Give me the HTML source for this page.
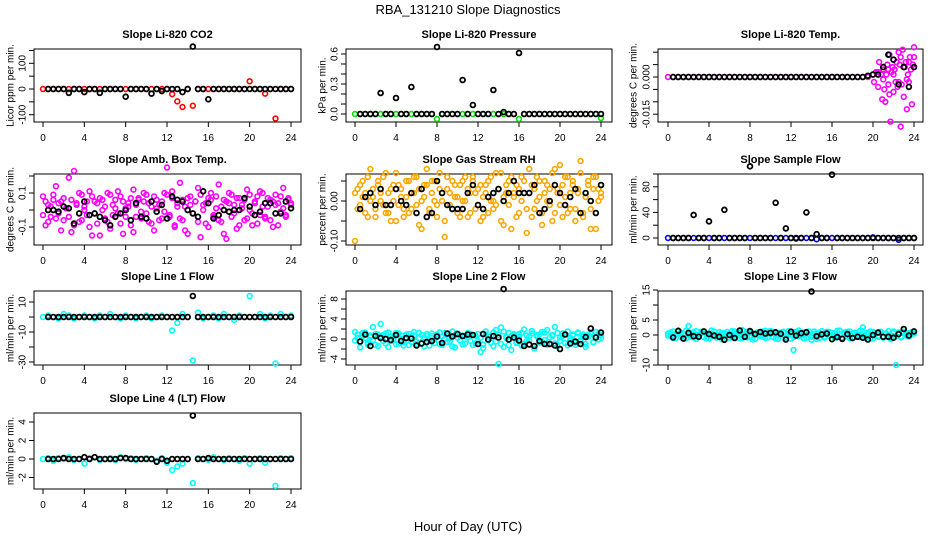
<!DOCTYPE html>
<html><head><meta charset="utf-8"><style>
html,body{margin:0;padding:0;background:#fff;}
svg{display:block;font-family:"Liberation Sans",sans-serif;}
</style></head><body>
<svg id="c" width="936" height="540" viewBox="0 0 936 540">
<text x="468" y="14" text-anchor="middle" font-size="13">RBA_131210  Slope Diagnostics</text>
<text x="468" y="531" text-anchor="middle" font-size="13">Hour of Day (UTC)</text>
</svg>
<script>
// ---- data ----
const xTicks=[0,4,8,12,16,20,24];
const co2Col=[0,0,0,0,0,0,0,0,0,0,0,0,0,0,0,0,0,0,0,0,0,0,0,0,0,-20,-48,-70,0,-65,0,0,0,0,0,0,0,0,0,0,30,0,0,-18,0,-115,0,0,0];
const co2Blk=[0,0,0,0,-15,0,0,-12,0,0,-15,0,0,0,0,-30,0,0,0,0,-18,0,-8,0,0,0,-12,0,165,0,0,-40,0,0,0,0,0,0,0,0,0,0,0,0,0,0,0,0];
const presCol=[0,0,0,0,0,0,0,0,0,0,0,0,0,0,0,0,-0.05,0,0,0,0,0,0,0,0,0,0,0,0,0,0,0,-0.05,0,0,0,0,0,0,0,0,0,0,0,0,0,0,0,-0.04];
const presBlk=[0,0,0,0,0.21,0,0,0.16,0,0,0.27,0,0,0,0,0.67,0,0,0,0,0.34,0,0.09,0,0,0,0.24,0,0.02,0,0,0.61,0,0,0,0,0,0,0,0,0,0,0,0,0,0,0,0];
const tempCol=[0,0,0,0,0,0,0,0,0,0,0,0,0,0,0,0,0,0,0,0,0,0,0,0,0,0,0,0,0,0,0,0,0,0,0,0,0,0,0,0,0.001,0.002,-0.001,0.003,0.001,-0.002,0.004,0.006,0.008];
const tempLateHours=[20.1,20.3,20.5,20.6,20.8,20.9,21.0,21.1,21.2,21.3,21.4,21.5,21.6,21.7,21.8,21.9,22.0,22.1,22.2,22.3,22.4,22.5,22.6,22.7,22.8,22.9,23.0,23.1,23.2,23.3,23.4,23.5,23.6,23.7,23.8,23.9,24.0,21.6,22.7,23.3];
const tempLateVals=[-0.002,0.002,-0.004,0.006,0.001,-0.009,0.003,-0.005,-0.010,0.001,0.005,-0.003,0.009,-0.018,0.002,0.004,-0.006,0.003,-0.002,0.006,-0.004,0.010,0.005,-0.020,-0.003,0.011,-0.008,0.004,0.006,-0.013,0.001,-0.002,0.008,0.003,-0.011,0.005,0.012,-0.007,0.008,-0.001];
const tempBlk=[0,0,0,0,0,0,0,0,0,0,0,0,0,0,0,0,0,0,0,0,0,0,0,0,0,0,0,0,0,0,0,0,0,0,0,0,0,0,0.0005,0.001,0.001,0.004,0.009,0.007,-0.003,0.004,-0.004,0.004];
const ambColA=[0.08,-0.09,0.03,-0.04,0.06,0.14,-0.02,0.05,-0.06,0.01,0.19,-0.13,0.23,0.04,-0.07,0.09,0.02,-0.03,0.11,-0.15,0.05,-0.08,0.07,0.00,-0.05,0.10,-0.11,0.03,0.06,-0.02,0.08,-0.14,0.01,0.04,-0.09,0.12,-0.04,0.07,-0.01,0.05,0.09,-0.07,0.02,-0.12,0.06,0.03,-0.05,0.10,0.25,-0.03,0.07,-0.10,0.04,0.16,-0.06,0.02,-0.14,0.08,-0.02,0.05,0.13,-0.16,0.03,-0.08,0.07,0.10,-0.04,0.01,0.15,-0.07,0.06,-0.17,0.04,0.09,-0.02,-0.11,0.07,0.03,-0.06,0.12,0.00,-0.09,0.05,0.08,-0.03,0.10,-0.05,0.02,0.06,-0.10,0.09,0.04,-0.01,0.13,-0.04,0.07,0.03];
const ambColB=[-0.03,0.05,-0.07,0.02,0.09,-0.05,0.04,-0.12,0.07,0.01,-0.04,0.06,-0.09,0.03,0.10,-0.06,0.00,0.05,-0.10,0.08,-0.02,0.04,-0.15,0.06,0.02,-0.07,0.09,-0.03,0.01,0.11,-0.08,0.05,-0.04,0.02,0.07,-0.13,0.03,0.06,-0.05,0.10,-0.02,0.04,-0.08,0.08,0.01,-0.06,0.05,-0.01,0.09,-0.04,0.11,-0.09,0.02,-0.05,0.06,-0.12,0.07,0.03,-0.02,0.05,-0.07,0.09,0.00,0.04,-0.10,0.06,-0.03,0.08,-0.06,0.02,-0.14,0.05,0.10,-0.04,0.03,0.07,-0.09,0.01,0.06,-0.05,0.09,-0.02,0.04,-0.08,0.11,0.02,-0.04,0.07,-0.06,0.05,0.03,-0.09,0.08,0.01,-0.03,0.06,0.04];
const ambBlk=[0.00,0.00,-0.01,0.02,0.01,-0.08,-0.02,0.05,-0.03,-0.02,-0.04,-0.06,-0.09,-0.04,-0.02,0.00,-0.06,0.04,-0.04,-0.05,0.05,-0.01,0.03,-0.05,0.08,0.06,0.05,0.00,-0.02,-0.04,0.11,0.04,-0.05,-0.03,0.00,-0.01,0.00,0.00,0.07,0.02,-0.03,-0.01,0.04,0.04,-0.02,-0.02,0.05,0.01];
const rhColA=[0.02,-0.02,0.04,0.01,-0.03,0.06,0.00,0.03,-0.04,0.05,0.02,-0.01,0.07,-0.03,0.03,0.00,-0.05,0.04,0.01,-0.02,0.05,-0.03,0.02,0.06,-0.01,0.03,-0.07,0.01,0.04,-0.02,0.05,0.00,-0.04,0.07,0.02,-0.09,0.03,-0.01,0.05,0.01,-0.03,0.04,0.00,0.06,-0.04,0.02,0.05,-0.02,0.03,-0.05,0.01,0.04,-0.03,0.06,0.00,-0.01,0.03,0.07,-0.06,0.02,0.05,-0.07,0.01,0.04,-0.03,0.06,0.02,-0.02,0.08,-0.04,0.03,0.00,0.05,-0.06,0.02,0.04,-0.01,0.07,-0.03,0.03,0.09,-0.04,0.01,0.06,-0.02,0.04,-0.05,0.02,0.07,-0.03,0.01,0.05,-0.07,0.03,0.06,0.00,0.02];
const rhColB=[-0.10,0.03,-0.01,0.05,0.02,-0.04,0.08,0.01,-0.02,0.04,0.00,0.06,-0.03,0.02,-0.05,0.04,0.07,-0.01,0.03,-0.04,0.01,0.05,-0.02,0.02,0.06,-0.06,0.00,0.04,0.08,-0.03,0.02,0.05,-0.01,0.03,0.00,-0.05,0.06,0.02,-0.02,0.04,0.01,-0.04,0.05,0.00,0.03,-0.03,0.06,0.02,-0.01,0.04,-0.04,0.02,0.05,0.00,-0.02,0.07,0.03,-0.05,0.01,0.04,-0.01,0.06,0.02,-0.04,0.03,0.00,0.05,-0.08,0.02,0.04,-0.02,0.06,0.01,-0.03,0.05,0.00,0.03,-0.05,0.08,0.02,-0.01,0.04,0.06,-0.03,0.02,0.05,-0.02,0.03,0.10,-0.04,0.01,0.04,-0.02,0.06,-0.07,0.03,0.01];
const rhBlk=[-0.02,0.01,0.02,-0.01,0.03,-0.01,-0.01,0.03,0.00,-0.01,0.02,-0.03,0.03,-0.04,-0.03,0.05,0.02,-0.01,-0.02,-0.02,-0.02,0.02,0.04,-0.01,-0.02,0.01,0.02,0.03,0.00,0.02,0.05,0.02,0.02,0.02,0.04,-0.03,-0.02,0.00,0.04,0.02,-0.01,0.01,0.03,-0.03,0.02,0.00,-0.03,0.04];
const sampCol=[0,0,0,0,0,0,0,0,0,0,0,0,0,0,0,0,0,0,0,0,0,0,0,0,0,-1,0,0,0,-2,0,0,0,0,0,0,0,0,0,0,1,0,0,0,0,-3,0,0,0];
const sampBlk=[0,0,0,0,36,0,0,26,0,0,44,0,0,0,0,112,0,0,0,0,55,0,15,0,0,0,40,0,6,0,0,99,0,0,0,0,0,0,0,0,0,0,0,0,0,0,0,0];
const l1Col=[0,1,0,-1,2,1,-1,0,1,0,-1,1,0,2,0,-1,1,0,-1,0,1,-1,0,1,0,-9,-4,2,0,-29,3,-1,0,1,-1,2,0,-2,1,0,14,0,2,-1,1,-31,2,0,1];
const l1Blk=[0,0,0,0,0,0,0,0,0,0,0,0,0,0,0,0,0,0,0,0,0,0,0,0,0,0,0,0,14,0,0,0,0,0,0,0,0,0,0,0,0,0,0,0,0,0,0,0];
const l2ColA=[1.4,0.2,-1.7,0.6,1.3,-0.8,0.4,2.4,-1.2,0.9,3.0,-0.4,1.1,-1.6,0.5,0.0,1.2,-0.9,0.7,-1.3,0.3,1.0,-0.6,1.4,-1.0,0.2,0.8,-1.5,0.6,-0.3,1.1,-0.8,0.4,1.3,-1.2,0.0,0.9,-0.5,1.5,-1.7,0.3,0.7,-1.1,0.5,1.2,-0.4,0.8,-0.9,1.0,-2.6,-1.8,1.5,-0.2,0.6,-1.4,1.8,-5.0,2.3,-1.6,0.4,1.2,-2.2,0.7,-0.6,1.0,-1.3,1.9,-0.4,0.5,1.6,-1.9,0.8,-0.7,1.4,-0.2,1.8,-1.0,0.6,2.4,-1.5,0.3,1.1,-0.8,1.5,-0.3,0.7,-1.2,1.3,-0.5,0.9,-1.6,0.4,1.0,-0.7,1.4,-0.1,0.8];
const l2ColB=[-0.3,0.9,-0.6,1.2,0.2,-1.1,0.7,-0.2,1.0,-1.4,0.5,0.8,-0.9,1.3,-0.4,0.6,-1.0,1.1,0.0,-0.7,0.9,-1.2,0.4,0.7,-0.5,1.2,-0.8,0.3,1.0,-1.3,0.6,-0.1,0.9,-1.0,0.5,1.2,-0.6,0.2,-1.5,0.8,1.1,-0.3,0.6,-0.9,0.4,1.0,-1.2,0.7,-0.4,0.2,-1.1,0.9,0.5,-0.7,1.3,-0.5,0.8,-1.0,1.5,0.2,-1.2,0.6,1.0,-0.8,0.4,1.2,-1.0,0.7,-0.3,1.1,-1.4,0.5,0.9,-0.6,1.3,-1.1,0.3,0.8,-0.9,1.2,-0.4,0.6,1.0,-1.3,0.2,0.9,-0.7,1.1,-0.2,0.5,-1.0,0.8,1.3,-0.6,0.4,1.0,0.2];
const l2Blk=[-0.5,0.9,-1.4,0.6,0.2,0.0,-0.2,0.8,-0.4,0.2,0.1,-1.3,-0.9,-0.6,-0.4,0.5,-0.8,1.1,0.5,1.0,0.6,0.9,0.8,-1.0,1.0,-0.1,0.6,0.3,10.0,-0.1,0.3,-0.3,-1.4,-1.1,-1.4,-0.4,-1.0,-1.0,-1.3,-2.0,0.9,-0.9,-0.5,-1.0,0.4,2.1,0.3,1.3];
const l3ColA=[0.5,-0.4,1.2,-1.1,0.3,0.8,-0.9,1.4,3.0,-0.6,0.9,-1.3,0.2,1.1,-0.7,0.5,-1.2,1.5,0.0,-0.5,1.0,-1.4,0.6,0.3,-0.9,1.3,-0.2,0.7,-1.1,1.6,0.4,-0.8,1.0,-1.5,0.2,0.9,-0.4,1.2,-1.0,0.5,1.4,-0.6,0.1,-1.3,0.8,1.1,-0.7,0.3,-1.2,-5.0,0.6,1.5,-0.3,0.9,-0.9,1.2,-1.6,0.4,0.7,-1.0,1.3,-0.5,0.2,1.0,-1.3,0.6,-0.2,1.5,-0.8,0.3,1.1,-1.1,0.5,0.8,-0.6,1.4,2.5,-0.9,0.2,1.2,-1.2,0.7,-0.3,1.0,-0.8,0.4,1.3,-1.4,0.6,-10.0,0.9,-0.5,1.1,-0.2,0.7,0.3,0.6];
const l3ColB=[-0.2,0.8,-1.0,0.4,1.1,-0.6,0.3,-1.2,0.9,0.2,-0.8,1.3,-0.4,0.6,1.0,-1.1,0.5,-0.3,1.2,-0.9,0.1,0.7,-1.4,1.0,0.4,-0.6,1.2,-0.2,0.8,-1.0,0.3,1.1,-0.7,0.6,-1.3,0.9,0.2,-0.5,1.4,-0.8,0.4,1.0,-1.2,0.6,-0.1,0.9,-0.9,1.3,0.3,-0.7,1.1,-0.4,0.5,-1.1,1.0,0.2,-0.6,1.2,-1.3,0.8,0.4,-0.9,1.1,-0.2,0.7,-1.0,1.4,0.3,-0.8,0.9,-0.5,1.2,-1.1,0.6,0.1,-0.7,1.3,-0.3,0.8,-1.2,1.0,0.4,-0.6,1.1,-0.9,0.5,0.2,-1.0,1.2,-0.4,0.7,-0.8,1.0,0.3,-0.5,0.9,0.5];
const l3Blk=[-0.8,1.4,-1.2,0.7,-0.4,-0.6,1.2,0.3,-0.2,-0.6,-1.6,0.0,-1.0,1.5,-0.6,1.3,0.3,1.0,0.5,0.7,0.9,0.4,-1.5,1.1,-0.2,0.6,0.9,14.5,-0.4,0.2,0.5,-1.4,-0.7,-1.3,0.3,-1.0,-0.6,-0.9,-1.5,0.0,0.8,-0.6,-0.6,-0.9,0.3,2.0,-0.2,1.2];
const l4Col=[0,0.1,-0.2,0.1,0,0.2,-0.1,0,-0.5,0.1,0.2,-0.1,0,0.1,-0.1,0.2,0,0.1,-0.1,0,0.1,0,-0.2,0.1,-0.4,-1.2,-0.8,-0.5,0,-2.6,0.1,0,-0.1,0.2,0,-0.1,0.1,0,-0.2,0.1,-0.5,0,0.1,-0.4,0,-2.9,0.1,0,0.1];
const l4Blk=[0,0,0,0.1,0,0,0,0.2,0,0.2,0,0,0,0,0.1,0.1,0,0,0,0,0,-0.3,0,-0.2,0,0,0,0,4.7,0,0,0.1,0,0,0,0,0,0,0,0,0,0,0,0,0,0,0,0];

// ---- layout ----
const cols=[{l:34,r:301,x0:43,x1:291,yt:10},{l:346,r:612,x0:355,x1:601,yt:322},{l:658,r:923,x0:668,x1:914,yt:633}];
const rows=[{t:49,b:122},{t:174,b:245},{t:291,b:365},{t:413,b:489}];
const NS='http://www.w3.org/2000/svg';
const svg=document.getElementById('c');
function mk(tag,at,parent){const e=document.createElementNS(NS,tag);for(const k in at)e.setAttribute(k,at[k]);(parent||svg).appendChild(e);return e;}

function panel(o){
  const c=cols[o.col],r=rows[o.row];
  const g=mk('g',{});
  
  
  const xs=h=>c.x0+(c.x1-c.x0)*h/24;
  const ys=v=>o.yz-(v)*o.ypu;
  const t=mk('text',{x:(c.l+c.r)/2,y:r.t-11,'text-anchor':'middle','font-size':11,'font-weight':'bold'},g);
  t.textContent=o.title;
  
  
  const box=mk('rect',{x:c.l,y:r.t,width:c.r-c.l,height:r.b-r.t,fill:'none',stroke:'#000','stroke-width':1},g);
  
  
  // x axis
  const xa=mk('g',{},g);
  
  
  xTicks.forEach(v=>{
    mk('line',{x1:xs(v),x2:xs(v),y1:r.b,y2:r.b+5,stroke:'#000'},xa);
    const tx=mk('text',{x:xs(v),y:r.b+19,'text-anchor':'middle','font-size':10},xa);
    tx.textContent=v;
    
    
  });
  // y axis
  const ya=mk('g',{},g);
  
  
  const ax=c.l;
  o.ticks.forEach(v=>{
    mk('line',{x1:ax-5,x2:ax,y1:ys(v),y2:ys(v),stroke:'#000'},ya);
  });
  const tl=c.l-12;
  o.labels.forEach(v=>{
    const yy=ys(v);
    const tx=mk('text',{x:tl,y:yy,'text-anchor':'middle','font-size':10,transform:`rotate(-90 ${tl} ${yy})`,dy:'0.35em'},ya);
    tx.textContent=o.fmt?o.fmt(v):v;
    
    
  });
  const ymid=(r.t+r.b)/2;
  const yl=mk('text',{x:c.yt,y:ymid,'text-anchor':'middle','font-size':10,transform:`rotate(-90 ${c.yt} ${ymid})`,dy:'0.35em'},g);
  yl.textContent=o.ylab;
  
  
  function pts(vals,hours,color,sname,w){
    const sg=mk('g',{fill:'none',stroke:color,'stroke-width':w||1.6},g);
    
    
    vals.forEach((v,i)=>{
      const h=hours?hours[i]:(hours===null?(i+1)*24/vals.length:i*24/(vals.length-1));
      const p=mk('circle',{cx:xs(h),cy:ys(v),r:2.4},sg);
      
      
    });
  }
  (o.colored||[]).forEach((s,k)=>pts(s,o.cHours&&o.cHours[k],o.color,'colored-series-'+(k+1)));
  pts(o.black,null,'#000','black-series',1.8);
}

panel({name:'co2',col:0,row:0,title:'Slope Li-820 CO2',ylab:'Licor ppm per min.',yz:89,ypu:0.257,ticks:[-100,-50,0,50,100,150],labels:[-100,0,100],color:'#ff0000',colored:[co2Col],black:co2Blk});
panel({name:'pressure',col:1,row:0,title:'Slope Li-820 Pressure',ylab:'kPa per min.',yz:114,ypu:100,ticks:[0,0.1,0.2,0.3,0.4,0.5,0.6],labels:[0,0.3,0.6],fmt:v=>v.toFixed(1),color:'#00dd00',colored:[presCol],black:presBlk});
panel({name:'li820-temp',col:2,row:0,title:'Slope Li-820 Temp.',ylab:'degrees C per min.',yz:77,ypu:2480,ticks:[-0.015,-0.01,-0.005,0,0.005,0.01],labels:[-0.015,0],fmt:v=>v.toFixed(3),color:'#ff00ff',colored:[tempCol,tempLateVals],cHours:[undefined,tempLateHours],black:tempBlk});
panel({name:'amb-box-temp',col:0,row:1,title:'Slope Amb. Box Temp.',ylab:'degrees C per min.',yz:210,ypu:170,ticks:[-0.1,0,0.1,0.2],labels:[-0.1,0.1],fmt:v=>v.toFixed(1),color:'#ff00ff',colored:[ambColA,ambColB],black:ambBlk});
panel({name:'gas-stream-rh',col:1,row:1,title:'Slope Gas Stream RH',ylab:'percent per min.',yz:201,ypu:400,ticks:[-0.1,-0.05,0,0.05],labels:[-0.1,0],fmt:v=>v.toFixed(2),color:'#ffa500',colored:[rhColA,rhColB],black:rhBlk});
panel({name:'sample-flow',col:2,row:1,title:'Slope Sample Flow',ylab:'ml/min per min.',yz:238,ypu:0.64,ticks:[0,20,40,60,80,100],labels:[0,40,80],color:'#0000ff',colored:[sampCol],black:sampBlk});
panel({name:'line1-flow',col:0,row:2,title:'Slope Line 1 Flow',ylab:'ml/min per min.',yz:317,ypu:1.5,ticks:[-30,-20,-10,0,10],labels:[-30,-10,10],color:'#00ffff',colored:[l1Col],black:l1Blk});
panel({name:'line2-flow',col:1,row:2,title:'Slope Line 2 Flow',ylab:'ml/min per min.',yz:339,ypu:5,ticks:[-4,-2,0,2,4,6,8],labels:[-4,0,4,8],color:'#00ffff',colored:[l2ColA,l2ColB],black:l2Blk});
panel({name:'line3-flow',col:2,row:2,title:'Slope Line 3 Flow',ylab:'ml/min per min.',yz:335,ypu:3,ticks:[-10,-5,0,5,10,15],labels:[-10,0,5,15],color:'#00ffff',colored:[l3ColA,l3ColB],black:l3Blk});
panel({name:'line4-flow',col:0,row:3,title:'Slope Line 4 (LT) Flow',ylab:'ml/min per min.',yz:459,ypu:9.25,ticks:[-2,0,2,4],labels:[-2,0,2,4],color:'#00ffff',colored:[l4Col],black:l4Blk});
</script>
</body></html>
